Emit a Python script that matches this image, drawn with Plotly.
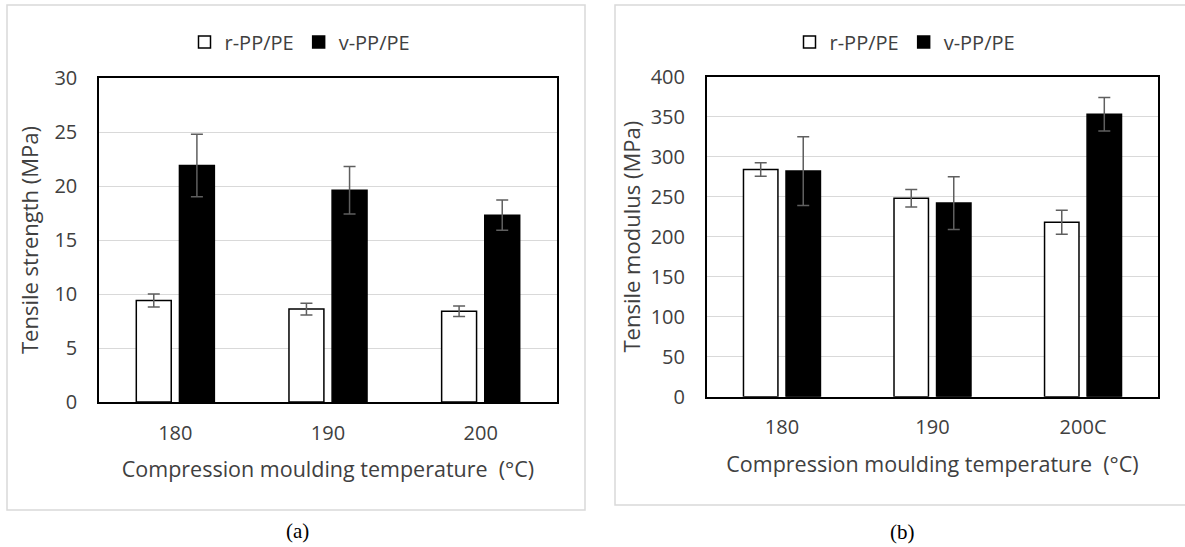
import plotly.graph_objects as go

# ---- data ----
temps_a = ["180", "190", "200"]
temps_b = ["180", "190", "200C"]
series_names = ["r-PP/PE", "v-PP/PE"]

strength_r = [9.4, 8.6, 8.4]
strength_r_err = [0.6, 0.55, 0.48]
strength_v = [21.9, 19.6, 17.3]
strength_v_err = [2.9, 2.2, 1.4]

modulus_r = [284, 248, 218]
modulus_r_err = [8.5, 11, 15]
modulus_v = [282, 242, 353]
modulus_v_err = [43, 33, 21]

W, H = 1185, 547
FONT = "Open Sans"
TXT = "#404040"


def px_x(p):
    return p / W


def px_y(p):
    return 1 - p / H


fig = go.Figure()

err_style = dict(type="data", color="#5f5f5f", thickness=1.5, width=6, visible=True)

fig.add_trace(go.Bar(
    x=temps_a, y=strength_r, name=series_names[0],
    marker=dict(color="white", line=dict(color="black", width=1.5)),
    error_y=dict(array=strength_r_err, **err_style),
    xaxis="x", yaxis="y", legend="legend"))
fig.add_trace(go.Bar(
    x=temps_a, y=strength_v, name=series_names[1],
    marker=dict(color="black", line=dict(color="black", width=1.5)),
    error_y=dict(array=strength_v_err, **err_style),
    xaxis="x", yaxis="y", legend="legend"))
fig.add_trace(go.Bar(
    x=temps_b, y=modulus_r, name=series_names[0],
    marker=dict(color="white", line=dict(color="black", width=1.5)),
    error_y=dict(array=modulus_r_err, **err_style),
    xaxis="x2", yaxis="y2", legend="legend2"))
fig.add_trace(go.Bar(
    x=temps_b, y=modulus_v, name=series_names[1],
    marker=dict(color="black", line=dict(color="black", width=1.5)),
    error_y=dict(array=modulus_v_err, **err_style),
    xaxis="x2", yaxis="y2", legend="legend2"))

axis_common = dict(showline=True, linecolor="black", linewidth=1.5, mirror=True,
                   tickfont=dict(family=FONT, size=20, color=TXT))

xa = dict(type="category", ticks="", showgrid=False,
          title=dict(text="Compression moulding temperature  (°C)",
                     font=dict(family=FONT, size=21.5, color=TXT), standoff=17),
          ticklabelstandoff=12, **axis_common)
ya = dict(showgrid=True, gridcolor="#d9d9d9", gridwidth=1, zeroline=False,
          ticks="", ticklabelstandoff=16, **axis_common)

fig.update_layout(
    width=W, height=H,
    margin=dict(l=0, r=0, t=0, b=0, autoexpand=False),
    paper_bgcolor="white", plot_bgcolor="white",
    barmode="group", bargap=0.435, bargroupgap=0.19,
    xaxis=dict(domain=[px_x(99), px_x(557)], anchor="y", **xa),
    yaxis=dict(domain=[px_y(402), px_y(78)], anchor="x", range=[0, 30], dtick=5,
               title=dict(text="Tensile strength (MPa)",
                          font=dict(family=FONT, size=22, color=TXT), standoff=10),
               **ya),
    xaxis2=dict(domain=[px_x(706.7), px_x(1158.3)], anchor="y2", **xa),
    yaxis2=dict(domain=[px_y(396.7), px_y(76.7)], anchor="x2", range=[0, 400], dtick=50,
                title=dict(text="Tensile modulus (MPa)",
                           font=dict(family=FONT, size=22, color=TXT), standoff=4),
                **ya),
    legend=dict(orientation="h", x=px_x(300), xanchor="center", y=px_y(42), yanchor="middle",
                font=dict(family=FONT, size=20, color=TXT), bgcolor="rgba(0,0,0,0)",
                itemwidth=30),
    legend2=dict(orientation="h", x=px_x(905), xanchor="center", y=px_y(42), yanchor="middle",
                 font=dict(family=FONT, size=20, color=TXT), bgcolor="rgba(0,0,0,0)",
                 itemwidth=30),
    shapes=[
        dict(type="rect", xref="paper", yref="paper", x0=px_x(7), x1=px_x(585),
             y0=px_y(510), y1=px_y(5), line=dict(color="#d9d9d9", width=1.5), layer="below"),
        dict(type="rect", xref="paper", yref="paper", x0=px_x(615), x1=px_x(1195),
             y0=px_y(505), y1=px_y(5), line=dict(color="#d9d9d9", width=1.5), layer="below"),
    ],
    annotations=[
        dict(text="(a)", xref="paper", yref="paper", x=px_x(297), y=px_y(531),
             xanchor="center", yanchor="middle", showarrow=False,
             font=dict(family="Liberation Serif", size=21, color="black")),
        dict(text="(b)", xref="paper", yref="paper", x=px_x(902), y=px_y(532),
             xanchor="center", yanchor="middle", showarrow=False,
             font=dict(family="Liberation Serif", size=21, color="black")),
    ],
)

fig.write_html("out.html", config={"displayModeBar": False},
               post_script="document.body.style.margin='0';document.body.style.overflow='hidden';")
